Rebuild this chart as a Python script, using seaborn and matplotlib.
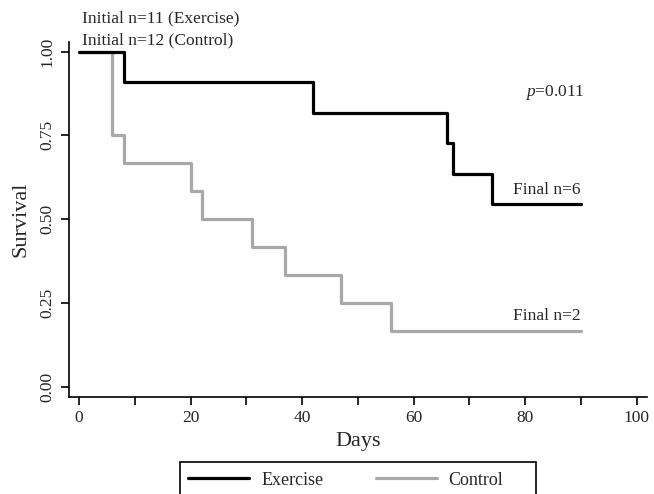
import matplotlib
matplotlib.use("Agg")
import matplotlib.pyplot as plt
import seaborn as sns
import pandas as pd
from matplotlib.ticker import MultipleLocator
from matplotlib.lines import Line2D
from matplotlib.patches import Rectangle

# Data
ex_days = [0, 8, 42, 66, 67, 74, 90]
ex_surv = [1.0, 0.909, 0.818, 0.727, 0.636, 0.545, 0.545]
ct_days = [0, 6, 8, 20, 22, 31, 37, 47, 56, 90]
ct_surv = [1.0, 0.75, 0.667, 0.583, 0.5, 0.417, 0.333, 0.25, 0.167, 0.167]
groups = ["Exercise", "Control"]
x_ticks = [0, 20, 40, 60, 80, 100]
y_ticks = [0.0, 0.25, 0.5, 0.75, 1.0]
y_ticklabels = ["0.00", "0.25", "0.50", "0.75", "1.00"]

sns.set_style("ticks")
plt.rcParams["font.family"] = ["Liberation Serif", "DejaVu Serif"]
plt.rcParams["mathtext.fontset"] = "custom"
plt.rcParams["mathtext.it"] = "Liberation Serif:italic"
plt.rcParams["mathtext.rm"] = "Liberation Serif"

df = pd.concat([
    pd.DataFrame({"Days": ex_days, "Survival": ex_surv, "Group": groups[0]}),
    pd.DataFrame({"Days": ct_days, "Survival": ct_surv, "Group": groups[1]}),
])

W, H = 654, 494
fig = plt.figure(figsize=(W / 100, H / 100), dpi=100)
ax = fig.add_axes([0.1055, 0.1964, 0.8833, 0.7186])

palette = {"Exercise": "#000000", "Control": "#a8a8a8"}
sns.lineplot(data=df, x="Days", y="Survival", hue="Group", palette=palette,
             hue_order=groups, estimator=None, drawstyle="steps-post",
             linewidth=2.3, ax=ax, legend=False)
ax.lines[0].set_zorder(4)

ax.set_xlim(-1.8, 101.8)
ax.set_ylim(-0.031, 1.029)
ax.set_xticks(x_ticks)
ax.xaxis.set_minor_locator(MultipleLocator(10))
ax.set_yticks(y_ticks)
ax.set_yticklabels(y_ticklabels, rotation=90, va="center")
ax.tick_params(axis="both", which="both", length=6, width=1.2, labelsize=12.5,
               direction="out", color="black")
sns.despine(ax=ax)
for s in ["left", "bottom"]:
    ax.spines[s].set_linewidth(1.2)
    ax.spines[s].set_color("black")

ax.set_xlabel("Days", fontsize=16, labelpad=4)
ax.set_ylabel("Survival", fontsize=16, labelpad=7)

ax.text(0.5, 1.100, "Initial n=11 (Exercise)", fontsize=12.5, ha="left", va="center", clip_on=False)
ax.text(0.5, 1.033, "Initial n=12 (Control)", fontsize=12.5, ha="left", va="center", clip_on=False)
ax.text(90.7, 0.877, r"$p$=0.011", fontsize=12.5, ha="right", va="center")
ax.text(90.0, 0.563, "Final n=6", fontsize=12.5, ha="right", va="bottom")
ax.text(90.0, 0.188, "Final n=2", fontsize=12.5, ha="right", va="bottom")

# legend (entries) without frame, frame drawn as a rectangle box
handles = [Line2D([0], [0], color=palette[g], lw=2.3) for g in groups]
leg = fig.legend(handles, groups, loc="center left",
                 bbox_to_anchor=(188 / W, 1 - 480 / H),
                 ncol=2, frameon=False, fontsize=13,
                 handlelength=3.4, columnspacing=2.9, borderpad=0.0,
                 borderaxespad=0.0, handletextpad=0.65)
fig.patches.append(Rectangle((180 / W, 1 - 505 / H), 356 / W, 43 / H,
                             transform=fig.transFigure, fill=False,
                             edgecolor="black", linewidth=1.2))

fig.savefig("out.png", dpi=100)
